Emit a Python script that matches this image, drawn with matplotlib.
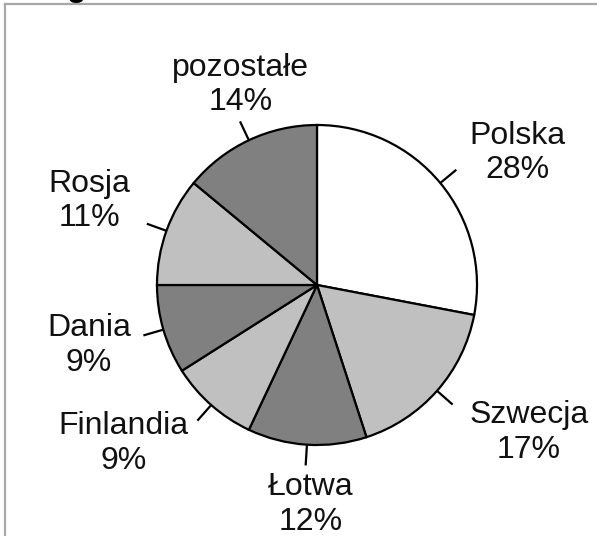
import numpy as np
import matplotlib
matplotlib.use("Agg")
import matplotlib.pyplot as plt
from matplotlib.lines import Line2D

categories = ["Polska", "Szwecja", "Łotwa", "Finlandia", "Dania", "Rosja", "pozostałe"]
values = [28, 17, 12, 9, 9, 11, 14]
colors = ["#ffffff", "#c0c0c0", "#808080", "#c0c0c0", "#808080", "#c0c0c0", "#808080"]
# label centres in pie-radius units
label_pos = [(1.25, 0.825), (1.325, -0.92), (-0.04, -1.37), (-1.21, -0.99),
             (-1.425, -0.38), (-1.42, 0.525), (-0.48, 1.25)]

W, H = 597, 536
cx, cy, R = 317, 285, 160
fig = plt.figure(figsize=(W / 100, H / 100), dpi=100)
ax = fig.add_axes([0, 0, 1, 1])
ax.set_xlim(-cx / R, (W - cx) / R)
ax.set_ylim(-(H - cy) / R, cy / R)
ax.set_aspect("equal")
ax.axis("off")

wedges, _ = ax.pie(values, colors=colors, startangle=90, counterclock=False,
                   radius=1.0, center=(0, 0), frame=True,
                   wedgeprops=dict(edgecolor="black", linewidth=1.6))
ax.set_xlim(-cx / R, (W - cx) / R)
ax.set_ylim(-(H - cy) / R, cy / R)
ax.axis("off")

for w, cat, val, (lx, ly) in zip(wedges, categories, values, label_pos):
    mid = np.deg2rad((w.theta1 + w.theta2) / 2)
    ax.plot([np.cos(mid), 1.13 * np.cos(mid)], [np.sin(mid), 1.13 * np.sin(mid)],
            color="black", lw=1.6, solid_capstyle="butt")
    ax.text(lx, ly, f"{cat}\n{val}%", ha="center", va="center",
            fontsize=23, family="Liberation Sans", color="#111111",
            linespacing=1.2)

# frame lines of the original scan
fig.add_artist(Line2D([5 / W, 1], [1 - 4 / H, 1 - 4 / H], transform=fig.transFigure,
                      color="#a8a8a8", lw=1.6))
fig.add_artist(Line2D([5 / W, 5 / W], [0, 1 - 4 / H], transform=fig.transFigure,
                      color="#a8a8a8", lw=1.6))
# cut-off title fragment
fig.text(77 / W, 1 + 4 / H, "g", ha="center", va="baseline", fontsize=23,
         fontweight="bold", family="Liberation Sans")

fig.savefig("out.png", dpi=100)
